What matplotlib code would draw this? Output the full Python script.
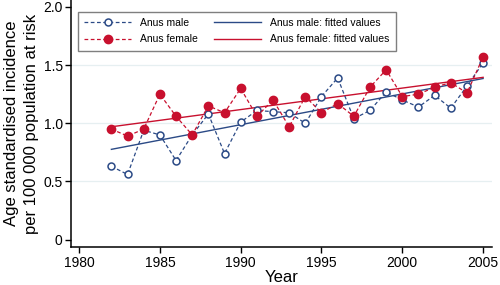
import numpy as np
import matplotlib
matplotlib.use('Agg')
import matplotlib.pyplot as plt

plt.rcParams['font.family'] = 'Liberation Sans'

years = list(range(1982, 2006))
male = [0.63, 0.56, 0.94, 0.90, 0.68, 0.90, 1.08, 0.74, 1.01, 1.11, 1.10, 1.09,
        1.00, 1.23, 1.39, 1.04, 1.11, 1.27, 1.20, 1.14, 1.24, 1.13, 1.32, 1.52]
female = [0.95, 0.89, 0.95, 1.25, 1.06, 0.90, 1.15, 1.09, 1.30, 1.06, 1.20, 0.97,
          1.23, 1.09, 1.17, 1.06, 1.31, 1.46, 1.23, 1.25, 1.31, 1.35, 1.26, 1.57]

# fitted values (start and end year)
fit_years = [1982, 2005]
male_fit = [0.776, 1.385]
female_fit = [0.97, 1.395]

navy = '#2b4a86'
red = '#c8102e'

fig = plt.figure(figsize=(5, 2.85), dpi=100)
ax = fig.add_axes([0.142, 0.132, 0.842, 0.868])

for yv in [0.5, 1.0, 1.5]:
    ax.axhline(yv, color='#e6eff1', lw=0.9, zorder=0)

ax.plot(years, male, '--o', color=navy, lw=0.9, ms=5, mfc='white', mec=navy, mew=1.1,
        dashes=(3, 2), label='Anus male', zorder=3)
ax.plot(years, female, '--o', color=red, lw=0.9, ms=6, mfc=red, mec=red,
        dashes=(3, 2), label='Anus female', zorder=3)
ax.plot(fit_years, male_fit, '-', color=navy, lw=1.0, label='Anus male: fitted values', zorder=2)
ax.plot(fit_years, female_fit, '-', color=red, lw=1.0, label='Anus female: fitted values', zorder=2)

ax.set_xlim(1979.5, 2005.55)
ax.set_ylim(-0.067, 2.06)
ax.set_xticks([1980, 1985, 1990, 1995, 2000, 2005])
ax.set_yticks([0, 0.5, 1.0, 1.5, 2.0])
ax.set_yticklabels(['0', '0.5', '1.0', '1.5', '2.0'])
ax.tick_params(labelsize=10, length=4, width=1, direction='out', pad=2)
ax.spines['top'].set_visible(False)
ax.spines['right'].set_visible(False)
ax.spines['left'].set_linewidth(1.1)
ax.spines['bottom'].set_linewidth(1.1)

ax.set_xlabel('Year', fontsize=12, labelpad=0)
ax.set_ylabel('Age standardised incidence\nper 100 000 population at risk', fontsize=12,
              labelpad=3, linespacing=1.4)

leg = ax.legend(ncol=2, loc='upper left', bbox_to_anchor=(0.0166, 0.952), fontsize=7.5,
                handlelength=4.5, handletextpad=0.9, columnspacing=1.5, labelspacing=0.6,
                fancybox=False, framealpha=1, edgecolor='#7f7f7f', borderpad=0.6,
                borderaxespad=0)
leg.get_frame().set_linewidth(1.0)

fig.savefig('out.png', dpi=100)
